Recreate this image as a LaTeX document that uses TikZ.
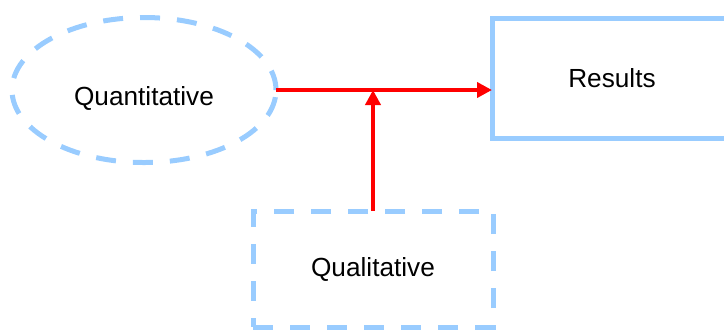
\documentclass[tikz,border=0pt]{standalone}
\usepackage{fontspec}
\setmainfont{Liberation Sans}
\usetikzlibrary{calc,shapes,arrows.meta}
\definecolor{paleblue}{HTML}{99CCFF}
\tikzset{
    blob/.style={draw=paleblue, line width=2.5pt, dash pattern=on 10pt off 8.5pt,
        ellipse, inner sep=0pt, outer sep=0pt, minimum width=132pt, minimum height=72.5pt},
    box/.style={draw=paleblue, line width=2.5pt, rectangle, inner sep=0pt, outer sep=0pt,
        minimum width=120pt, minimum height=60pt},
    link/.style={draw=red, line width=2pt, -{Triangle[length=7.5pt,width=7.5pt]}}
}
\begin{document}
\begin{tikzpicture}[x=0.5pt,y=-0.5pt,font=\fontsize{13.1}{15}\selectfont]
        \useasboundingbox (0,0) rectangle (724,329);
        \clip (0,0) rectangle (724,329);
        \node[blob, text height=15pt, text depth=0pt] (quant) at (144,90) {Quantitative};
        \node[box] (results) at (612,78.5) {Results};
        \node[box, dash pattern=on 10pt off 8.5pt, minimum height=58pt] (qual) at (373,269) {Qualitative};
        \draw[link] (quant.east) -- (quant.east -| results.west);
        \draw[link] (qual.north) -- (qual.north |- quant.east);
    \end{tikzpicture}
\end{document}
